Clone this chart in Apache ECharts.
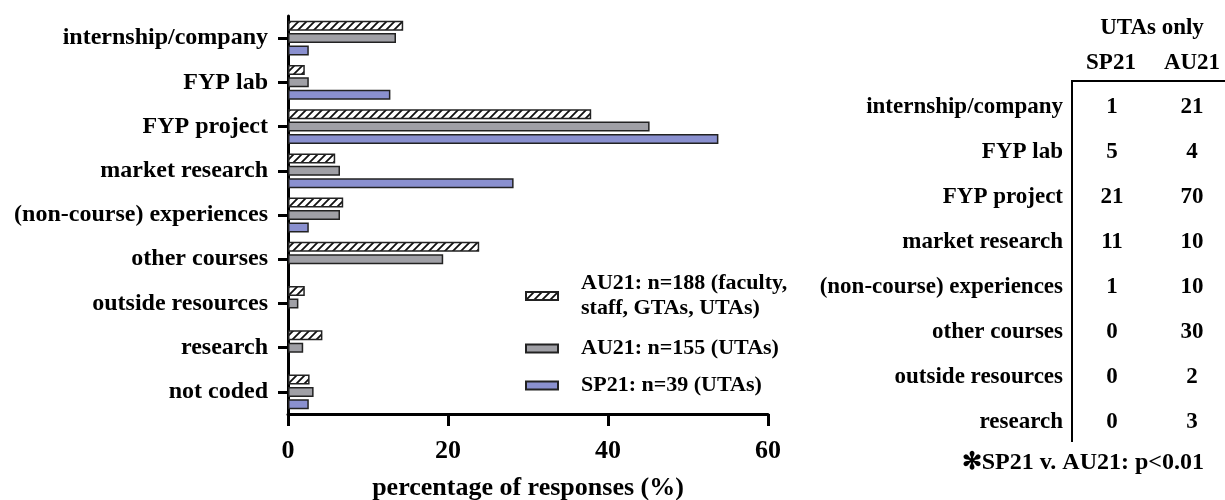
<!DOCTYPE html>
<html>
<head>
<meta charset="utf-8">
<script src="https://cdn.jsdelivr.net/npm/echarts@6/dist/echarts.min.js"></script>
<style>
html,body{margin:0;padding:0;background:#fff;}
#chart{width:1225px;height:500px;}
</style>
</head>
<body>
<div id="chart"></div>
<script>
// ---- data ----
const categories = ['internship/company','FYP lab','FYP project','market research','(non-course) experiences','other courses','outside resources','research','not coded'];
const seriesNames = ['AU21: n=188 (faculty,\nstaff, GTAs, UTAs)','AU21: n=155 (UTAs)','SP21: n=39 (UTAs)'];
const au21All = [14.4, 2.1, 37.9, 5.9, 6.9, 23.9, 2.1, 4.3, 2.7];
const au21UTA = [13.5, 2.6, 45.2, 6.5, 6.5, 19.4, 1.3, 1.9, 3.2];
const sp21UTA = [2.6, 12.8, 53.8, 28.2, 2.6, null, null, null, 2.6];
const xTicks = [0, 20, 40, 60];
const xTitle = 'percentage of responses (%)';
// table (UTAs only)
const tableTitle = 'UTAs only';
const tableCols = ['SP21','AU21'];
const tableRows = ['internship/company','FYP lab','FYP project','market research','(non-course) experiences','other courses','outside resources','research'];
const sp21Counts = [1, 5, 21, 11, 1, 0, 0, 0];
const au21Counts = [21, 4, 70, 10, 10, 30, 2, 3];
const footnote = '\u273BSP21 v. AU21: p<0.01';

const FONT = '"Liberation Serif","Times New Roman",serif';

// hatch pattern
function hatch(){
  const s = 8;
  const c = document.createElement('canvas');
  c.width = s; c.height = s;
  const g = c.getContext('2d');
  g.fillStyle = '#fff'; g.fillRect(0,0,s,s);
  g.strokeStyle = '#111'; g.lineWidth = 1.8;
  g.beginPath();
  g.moveTo(-2, s+2); g.lineTo(s+2, -2);
  g.moveTo(-2, 2); g.lineTo(2, -2);
  g.moveTo(s-2, s+2); g.lineTo(s+2, s-2);
  g.stroke();
  return c;
}
const hatchPattern = {image: hatch(), repeat: 'repeat'};

const colors = [hatchPattern, '#a0a0a6', '#8a90cf'];
const datas = [au21All, au21UTA, sp21UTA];

const chart = echarts.init(document.getElementById('chart'), null, {renderer: 'canvas'});

const series = datas.map((d, i) => ({
  name: seriesNames[i],
  type: 'bar',
  data: d,
  barWidth: 10,
  barGap: '24%',
  itemStyle: {color: colors[i], borderColor: '#222', borderWidth: 1.5},
  emphasis: {disabled: true},
  animation: false
}));

const legendTops = [271, 336, 373];
const legends = seriesNames.map((n, i) => ({
  data: [n],
  orient: 'vertical',
  left: 525,
  top: legendTops[i],
  padding: 0,
  icon: 'rect',
  itemWidth: 32,
  itemHeight: 8,
  selectedMode: false,
  textStyle: {fontFamily: FONT, fontWeight: 'bold', fontSize: 22, color: '#000', lineHeight: 25, padding: [0,0,0,18]}
}));

// table graphics
const g = [];
const txt = (t, x, y, align, size) => ({
  type: 'text', x: x, y: y, silent: true,
  style: {text: t, x: 0, y: 0, textAlign: align, textVerticalAlign: 'middle', font: 'bold ' + (size||23) + 'px ' + FONT, fill: '#000'}
});
g.push(txt(tableTitle, 1152, 28, 'center'));
g.push(txt(tableCols[0], 1111, 63, 'center'));
g.push(txt(tableCols[1], 1192, 63, 'center'));
g.push({type:'line', silent:true, shape:{x1:1072, y1:81, x2:1072, y2:442}, style:{stroke:'#000', lineWidth:2}});
g.push({type:'line', silent:true, shape:{x1:1071, y1:81, x2:1225, y2:81}, style:{stroke:'#000', lineWidth:2}});
tableRows.forEach((r, i) => {
  const y = 107 + 45 * i;
  g.push(txt(r, 1063, y, 'right'));
  g.push(txt(String(sp21Counts[i]), 1112, y, 'center'));
  g.push(txt(String(au21Counts[i]), 1192, y, 'center'));
});
g.push(txt(footnote, 1204, 463, 'right', 24));

chart.setOption({
  animation: false,
  backgroundColor: '#fff',
  grid: {left: 288, right: 457, top: 16, bottom: 86, containLabel: false, outerBoundsMode: 'none'},
  legend: legends,
  xAxis: {
    type: 'value', min: 0, max: 60, interval: 20,
    axisLine: {show: true, lineStyle: {color: '#000', width: 3}},
    axisTick: {show: true, length: 12, lineStyle: {color: '#000', width: 3}},
    splitLine: {show: false},
    axisLabel: {fontFamily: FONT, fontWeight: 'bold', fontSize: 26, color: '#000', margin: 24,
      formatter: v => xTicks.indexOf(v) >= 0 ? String(v) : ''},
    name: xTitle, nameLocation: 'middle', nameGap: 61,
    nameTextStyle: {fontFamily: FONT, fontWeight: 'bold', fontSize: 26, color: '#000'}
  },
  yAxis: {
    type: 'category', data: categories, inverse: true,
    axisLine: {show: true, lineStyle: {color: '#000', width: 3}},
    axisTick: {show: true, alignWithLabel: true, length: 10, lineStyle: {color: '#000', width: 3}},
    axisLabel: {fontFamily: FONT, fontWeight: 'bold', fontSize: 24, color: '#000', margin: 20}
  },
  series: series,
  graphic: g
});
</script>
</body>
</html>
